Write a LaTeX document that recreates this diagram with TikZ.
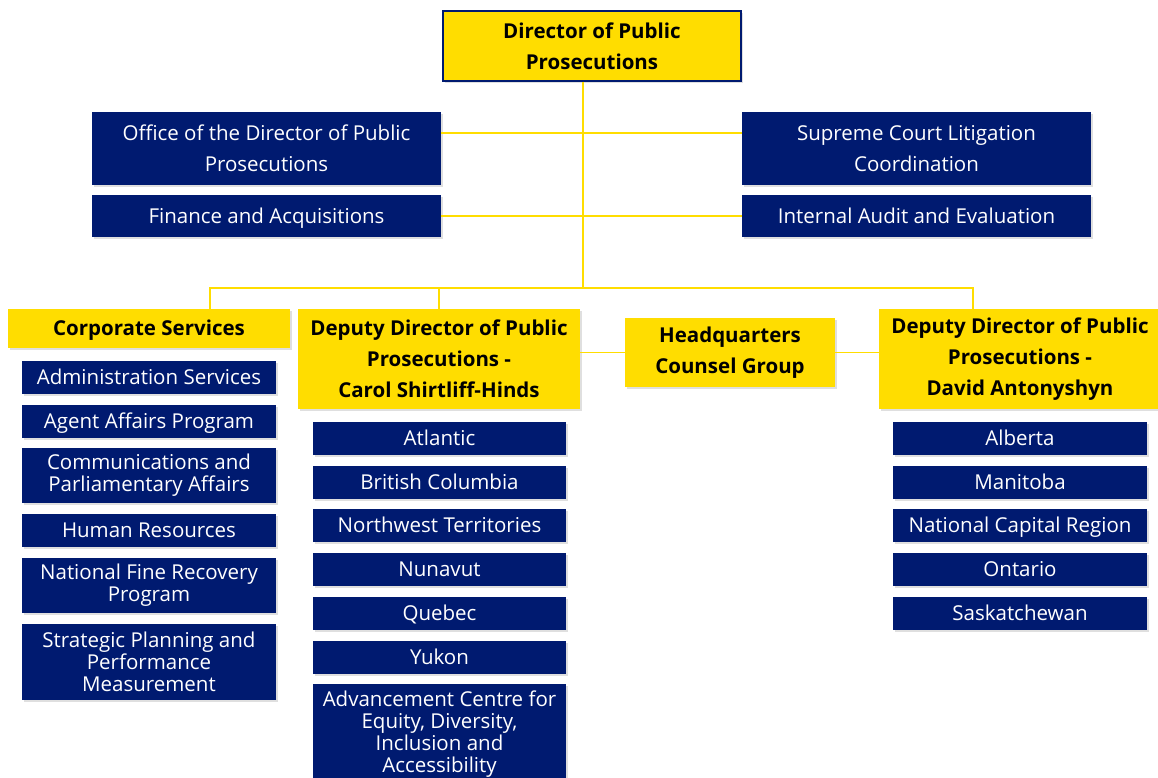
\documentclass[tikz,border=0pt]{standalone}
\usepackage{fontspec}
\setmainfont{Open Sans}
\usetikzlibrary{shadows}
\definecolor{ppsnavy}{HTML}{001A70}
\definecolor{ppsyellow}{HTML}{FFDD00}

\begin{document}
\begin{tikzpicture}[
  x=1pt, y=-1pt,
  wh/.style 2 args={minimum width=#1pt, minimum height=#2pt},
  box/.style={inner sep=0pt, align=center,
    drop shadow={opacity=0.25, shadow xshift=2pt, shadow yshift=-2pt}},
  one/.style={text height=17pt, text depth=2.5pt},
  head/.style={box, fill=ppsyellow, text=black,
    font=\fontsize{20.5}{31}\selectfont\bfseries},
  unit/.style={box, fill=ppsnavy, text=white,
    font=\fontsize{20.5}{31}\selectfont},
  sub/.style={box, fill=ppsnavy, text=white,
    font=\fontsize{20.5}{22}\selectfont},
  link/.style={ppsyellow, line width=1.5pt},
]
\useasboundingbox[fill=white] (0,0) rectangle (1158,778);

% top
\node[head, draw=ppsnavy, line width=1.5pt, wh={298}{70}] (dpp) at (592,46)
  {Director of Public\\Prosecutions};
\node[unit, wh={349}{73}] (office) at (266.5,148.5)
  {Office of the Director of Public\\Prosecutions};
\node[unit, one, wh={349}{42}] (finance) at (266.5,216) {Finance and Acquisitions};
\node[unit, wh={349}{73}] (supreme) at (916.5,148.5)
  {Supreme Court Litigation\\Coordination};
\node[unit, one, wh={349}{42}] (audit) at (916.5,216) {Internal Audit and Evaluation};

% second level
\node[head, one, wh={282}{39}] (corp) at (149,328.5) {Corporate Services};
\node[head, wh={282}{100}] (carol) at (439,359)
  {Deputy Director of Public\\Prosecutions -\\Carol Shirtliff-Hinds};
\node[head, wh={210}{69}] (hq) at (730,352.5) {Headquarters\\Counsel Group};
\node[head, wh={282}{100}] (david) at (1020,359)
  {Deputy Director of Public\\Prosecutions -\\David Antonyshyn};

% corporate services
\node[sub, one, wh={254}{33}] (admin) at (149,377.5) {Administration Services};
\node[sub, one, wh={254}{33}] (agent) at (149,421.5) {Agent Affairs Program};
\node[sub, wh={254}{55}] (comms) at (149,475.5)
  {Communications and\\Parliamentary Affairs};
\node[sub, one, wh={254}{33}] (hr) at (149,530.5) {Human Resources};
\node[sub, wh={254}{55}] (fine) at (149,585.5)
  {National Fine Recovery\\Program};
\node[sub, wh={254}{76}] (strat) at (149,662)
  {Strategic Planning and\\Performance\\Measurement};

% regions, Carol Shirtliff-Hinds
\node[sub, one, wh={253}{33}] (atlantic) at (439.5,438.5) {Atlantic};
\node[sub, one, wh={253}{33}] (bc) at (439.5,482) {British Columbia};
\node[sub, one, wh={253}{33}] (nwt) at (439.5,525.5) {Northwest Territories};
\node[sub, one, wh={253}{33}] (nunavut) at (439.5,569.5) {Nunavut};
\node[sub, one, wh={253}{33}] (quebec) at (439.5,613.5) {Quebec};
\node[sub, one, wh={253}{33}] (yukon) at (439.5,657) {Yukon};
\node[sub, wh={253}{100}] (acc) at (439.5,734)
  {Advancement Centre for\\Equity, Diversity,\\Inclusion and\\Accessibility};

% regions, David Antonyshyn
\node[sub, one, wh={254}{33}] (alberta) at (1020,438.5) {Alberta};
\node[sub, one, wh={254}{33}] (manitoba) at (1020,482) {Manitoba};
\node[sub, one, wh={254}{33}] (ncr) at (1020,525.5) {National Capital Region};
\node[sub, one, wh={254}{33}] (ontario) at (1020,569.5) {Ontario};
\node[sub, one, wh={254}{33}] (sask) at (1020,613.5) {Saskatchewan};

% connectors
\coordinate (trunk) at (583,288);
\draw[link] (dpp.south -| trunk) -- (trunk);
\draw[link] ([yshift=15.5pt]office.east) -- ([yshift=15.5pt]supreme.west);
\draw[link] (finance.east) -- (audit.west);
\draw[link] ([xshift=61pt]corp.north) |- (trunk) -| ([xshift=-47pt]david.north);
\draw[link] (carol.north) -- (carol.north |- trunk);
\draw[link] (carol.east |- hq.west) -- (hq.west);
\draw[link] (hq.east) -- (hq.east -| david.west);
\end{tikzpicture}
\end{document}
